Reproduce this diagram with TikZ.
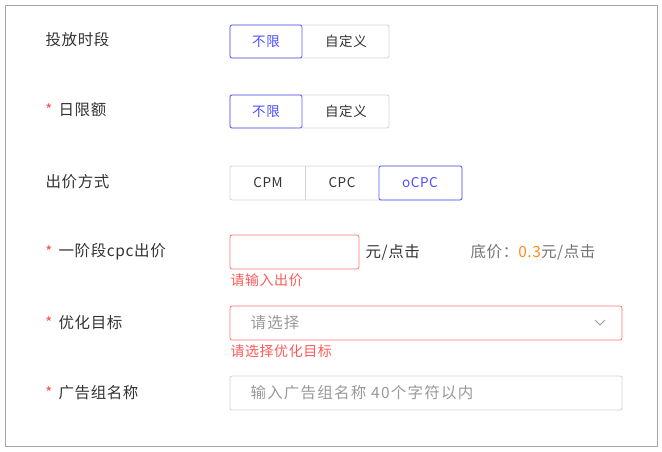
\documentclass[tikz,border=0pt]{standalone}
\usepackage{fontspec}
\setmainfont{Noto Sans CJK SC}[LetterSpace=4]
\begin{document}
\begin{tikzpicture}[x=1pt,y=-1pt,
 lbl/.style={anchor=west,font=\fontsize{15.5}{16}\selectfont,text=black!80},
 star/.style={text=red!70,font=\fontsize{15}{16}\selectfont},
 box/.style={draw=black!18,line width=0.8pt,rounded corners=2pt},
 sel/.style={draw=blue!65,line width=0.8pt,rounded corners=2pt},
 err/.style={draw=red!55,line width=0.8pt,rounded corners=2pt},
 bt/.style={font=\fontsize{13.5}{14}\selectfont,text=black!80},
 bts/.style={font=\fontsize{13.5}{14}\selectfont,text=blue!70},
 msg/.style={anchor=west,font=\fontsize{14}{15}\selectfont,text=red!65},
 ph/.style={anchor=west,font=\fontsize{15.5}{16}\selectfont\addfontfeature{LetterSpace=8},text=black!40}]
\useasboundingbox (0,0) rectangle (662,451);
\draw[black!35,line width=0.8pt] (5,5) rectangle (657,446);
% row 1
\node[lbl] (l1) at (42,40) {投放时段};
\draw[box] (230,25) rectangle (389,58);
\draw[sel] (230,25) rectangle (302,58);
\node[bts] (b11) at (266,41.5) {不限};
\node[bt] (b12) at (346,41.5) {自定义};
% row 2
\node[star] (s2) at (49,110) {*};
\node[lbl] (l2) at (55,110) {日限额};
\draw[box] (230,95) rectangle (389,128);
\draw[sel] (230,95) rectangle (302,128);
\node[bts] (b21) at (266,111.5) {不限};
\node[bt] (b22) at (346,111.5) {自定义};
% row 3
\node[lbl] (l3) at (42,182) {出价方式};
\draw[box] (230,166) rectangle (462,200);
\draw[black!18,line width=0.8pt] (305,166) -- (305,200);
\draw[sel] (379,166) rectangle (462,200);
\node[bt] (c1) at (268,183) {CPM};
\node[bt] (c2) at (342,183) {CPC};
\node[bts] (c3) at (420,183) {oCPC};
% row 4
\node[star] (s4) at (49,252) {*};
\node[lbl] (l4) at (55,252) {一阶段cpc出价};
\draw[err] (230,235) rectangle (359,269);
\node[lbl] (u4) at (362,252) {元/点击};
\node[lbl,text=black!55] (f4) at (467,252) {底价：\textcolor{orange!90}{0.3}元/点击};
\node[msg] (m4) at (227,280) {请输入出价};
% row 5
\node[star] (s5) at (49,323) {*};
\node[lbl] (l5) at (55,323) {优化目标};
\draw[err] (230,306) rectangle (622,340);
\node[ph] (p5) at (247,323) {请选择};
\draw[black!40,line width=0.8pt] (595,320) -- (600,325) -- (605,320);
\node[msg] (m5) at (227,351) {请选择优化目标};
% row 6
\node[star] (s6) at (49,393) {*};
\node[lbl] (l6) at (55,393) {广告组名称};
\draw[box] (230,376) rectangle (622,410);
\node[ph] (p6) at (247,393) {输入广告组名称 40个字符以内};
\end{tikzpicture}
\end{document}
